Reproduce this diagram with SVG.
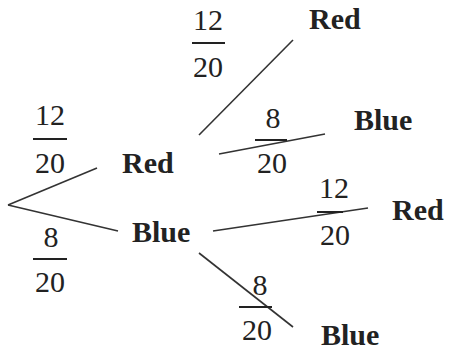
<svg xmlns="http://www.w3.org/2000/svg" width="451" height="351" viewBox="0 0 451 351">
  <style>
    text { font-family: 'Liberation Serif', 'Times New Roman', serif; fill: #222; }
    .lbl { font-size: 30px; font-weight: bold; }
    .num { font-size: 30px; text-anchor: middle; }
    .bar { stroke: #222; stroke-width: 2; }
    .edge { stroke: #333; stroke-width: 1.6; fill: none; }
  </style>
  <rect width="451" height="351" fill="#fff"/>

  <g id="connectors">
    <line class="edge" x1="8" y1="205" x2="97" y2="168"/>
    <line class="edge" x1="8" y1="205" x2="118" y2="231"/>
    <line class="edge" x1="199" y1="135" x2="293" y2="40"/>
    <line class="edge" x1="219" y1="154" x2="325" y2="134"/>
    <line class="edge" x1="213" y1="231" x2="368" y2="208"/>
    <line class="edge" x1="199" y1="253" x2="293" y2="327"/>
  </g>

  <g id="p-first-red">
    <text class="num" x="50" y="125">12</text>
    <line class="bar" x1="33" y1="139" x2="67" y2="139"/>
    <text class="num" x="50" y="173">20</text>
  </g>
  <g id="p-first-blue">
    <text class="num" x="51" y="247">8</text>
    <line class="bar" x1="33" y1="259" x2="67" y2="259"/>
    <text class="num" x="50" y="292">20</text>
  </g>

  <g id="node-red"><text class="lbl" x="122" y="173">Red</text></g>
  <g id="node-blue"><text class="lbl" x="132" y="242">Blue</text></g>

  <g id="p-red-red">
    <text class="num" x="208" y="30">12</text>
    <line class="bar" x1="192" y1="43" x2="225" y2="43"/>
    <text class="num" x="208" y="77">20</text>
  </g>
  <g id="p-red-blue">
    <text class="num" x="273" y="128">8</text>
    <line class="bar" x1="255" y1="140" x2="287" y2="140"/>
    <text class="num" x="272" y="173">20</text>
  </g>
  <g id="p-blue-red">
    <text class="num" x="334" y="198">12</text>
    <line class="bar" x1="317" y1="212" x2="343" y2="212"/>
    <text class="num" x="335" y="245">20</text>
  </g>
  <g id="p-blue-blue">
    <text class="num" x="260" y="295">8</text>
    <line class="bar" x1="239" y1="307" x2="272" y2="307"/>
    <text class="num" x="257" y="340">20</text>
  </g>

  <g id="node-red-red"><text class="lbl" x="309" y="29">Red</text></g>
  <g id="node-red-blue"><text class="lbl" x="354" y="130">Blue</text></g>
  <g id="node-blue-red"><text class="lbl" x="392" y="220">Red</text></g>
  <g id="node-blue-blue"><text class="lbl" x="321" y="345">Blue</text></g>
</svg>
